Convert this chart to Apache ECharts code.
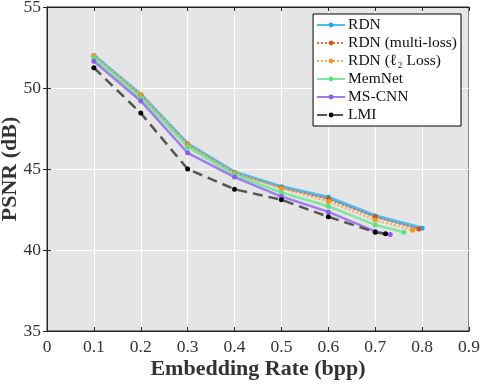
<!DOCTYPE html>
<html>
<head>
<meta charset="utf-8">
<script src="https://cdn.jsdelivr.net/npm/echarts@6/dist/echarts.min.js"></script>
<style>html,body{margin:0;padding:0;background:#fff}#main{width:482px;height:385px}</style>
</head>
<body>
<div id="main"></div>
<script>
// embedding rates (bpp)
var rates = [0.1, 0.2, 0.3, 0.4, 0.5, 0.6, 0.7];
var rdn = [52.0, 49.6, 46.55, 44.8, 43.9, 43.25, 42.1, 41.35];
var rdnMulti = [51.95, 49.55, 46.5, 44.75, 43.85, 43.15, 42.05, 41.3];
var rdnL2 = [52.0, 49.6, 46.5, 44.75, 43.8, 43.0, 41.85, 41.22];
var memnet = [51.85, 49.4, 46.35, 44.63, 43.55, 42.7, 41.55, 41.1];
var mscnn = [51.65, 49.2, 46.0, 44.5, 43.3, 42.35, 41.15, 40.95];
var lmi = [51.25, 48.45, 45.0, 43.75, 43.1, 42.05, 41.1, 41.0];
// last point of each curve sits at its max rate
var lastRate = [0.8, 0.793, 0.78, 0.761, 0.732, 0.722];
var names = ['RDN', 'RDN (multi-loss)', 'RDN (ℓ₂ Loss)', 'MemNet', 'MS-CNN', 'LMI'];

var font = '"Liberation Serif", "DejaVu Serif", serif';

function pts(vals, last) {
  var arr = rates.map(function (r, i) { return [r, vals[i]]; });
  arr.push([last, vals[7]]);
  return arr;
}

function makeSeries(name, vals, last, color, dotColor, width, type) {
  return {
    name: name,
    type: 'line',
    data: pts(vals, last),
    symbol: 'circle',
    symbolSize: 5,
    lineStyle: { color: color, width: width, type: type },
    itemStyle: { color: dotColor },
    z: 3
  };
}

var myChart = echarts.init(document.getElementById('main'));
var option = {
  animation: false,
  grid: {
    left: 47, right: 13, top: 7, bottom: 54,
    outerBoundsMode: 'none',
    containLabel: false,
    show: true,
    backgroundColor: '#e5e5e5',
    borderColor: '#262626',
    borderWidth: 1
  },
  legend: {
    data: names,
    orient: 'vertical',
    right: 21, top: 14,
    backgroundColor: '#fff',
    borderColor: '#000',
    borderWidth: 1,
    borderRadius: 0,
    padding: [3, 4, 3, 3],
    itemWidth: 28,
    itemHeight: 6,
    itemGap: 2,
    textStyle: { fontFamily: font, fontSize: 15.5, color: '#111', padding: [0, 0, 0, -2] }
  },
  xAxis: [{
    type: 'value', min: 0, max: 0.9, interval: 0.1,
    name: 'Embedding Rate (bpp)', nameLocation: 'middle', nameGap: 27,
    nameMoveOverlap: false,
    nameTextStyle: { fontFamily: font, fontSize: 22, fontWeight: 'bold', color: '#333' },
    axisLine: { lineStyle: { color: '#262626' } },
    axisTick: { inside: true, length: 4, lineStyle: { color: '#262626' } },
    axisLabel: {
      fontFamily: font, fontSize: 17.5, color: '#333', margin: 7,
      formatter: function (v) { return v === 0 ? '0' : v.toFixed(1); }
    },
    splitLine: { show: true, lineStyle: { color: '#fff', width: 1 } }
  }, {
    type: 'value', min: 0, max: 0.9, interval: 0.1, position: 'top',
    axisLine: { lineStyle: { color: '#262626' } },
    axisTick: { inside: true, length: 4, lineStyle: { color: '#262626' } },
    axisLabel: { show: false }, splitLine: { show: false }
  }],
  yAxis: [{
    type: 'value', min: 35, max: 55, interval: 5,
    name: 'PSNR (dB)', nameLocation: 'middle', nameGap: 26,
    nameMoveOverlap: false,
    nameTextStyle: { fontFamily: font, fontSize: 22, fontWeight: 'bold', color: '#333' },
    axisLine: { show: true, lineStyle: { color: '#262626' } },
    axisTick: { show: true, inside: true, length: 4, lineStyle: { color: '#262626' } },
    axisLabel: { fontFamily: font, fontSize: 17.5, color: '#333', margin: 6 },
    splitLine: { show: true, lineStyle: { color: '#fff', width: 1 } }
  }, {
    type: 'value', min: 35, max: 55, interval: 5, position: 'right',
    axisLine: { show: true, lineStyle: { color: '#262626' } },
    axisTick: { show: true, inside: true, length: 4, lineStyle: { color: '#262626' } },
    axisLabel: { show: false }, splitLine: { show: false }
  }],
  series: [
    makeSeries(names[0], rdn, lastRate[0], '#4dbeee', '#2aa8e8', 3.5, 'solid'),
    makeSeries(names[1], rdnMulti, lastRate[1], '#e8663a', '#d95319', 2, [2, 2]),
    makeSeries(names[2], rdnL2, lastRate[2], '#f5b055', '#f39a1e', 2, [2, 2]),
    makeSeries(names[3], memnet, lastRate[3], '#80e89c', '#5ee07e', 2.5, 'solid'),
    makeSeries(names[4], mscnn, lastRate[4], '#a07cf0', '#8a5cf0', 2.5, 'solid'),
    makeSeries(names[5], lmi, lastRate[5], '#555555', '#000000', 2.5, [10, 6])
  ]
};
myChart.setOption(option);
</script>
</body>
</html>
